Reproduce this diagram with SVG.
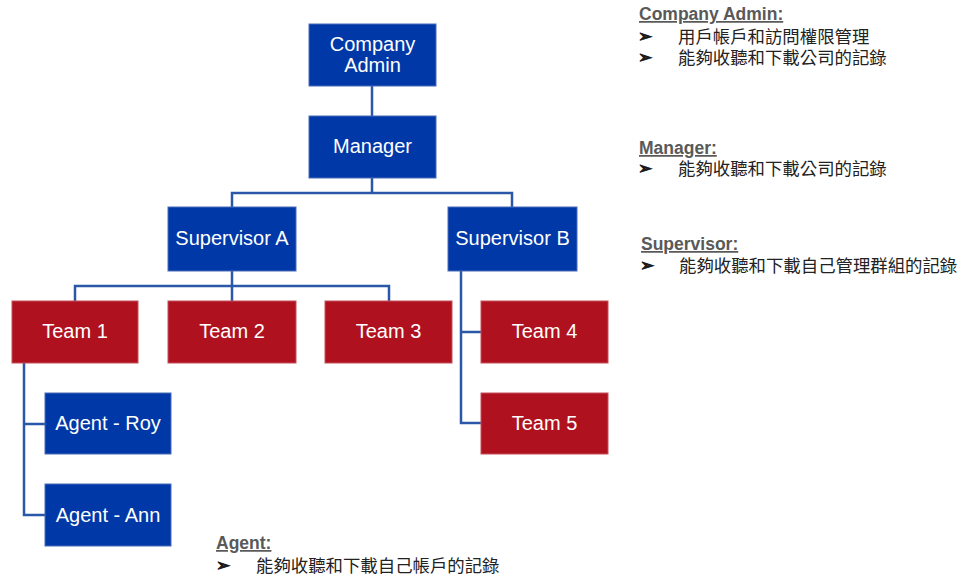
<svg xmlns="http://www.w3.org/2000/svg" width="965" height="580" viewBox="0 0 965 580">
<style>
  .bl { fill: #0038A8; stroke: #4a6cb8; stroke-width: 1; }
  .rd { fill: #AF121E; stroke: #c4505a; stroke-width: 1; }
  .nt { font-family: "Liberation Sans", Arial, sans-serif; font-size: 20px; fill: #ffffff; text-anchor: middle; }
  .cn { fill: none; stroke: #2A57A8; stroke-width: 2.5; }
  .hd { font-family: "Liberation Sans", Arial, sans-serif; font-size: 17.5px; font-weight: bold; fill: #595959; text-decoration: underline; }
  .bu { font-family: "DejaVu Sans", sans-serif; font-size: 17px; font-weight: bold; fill: #1a1a1a; stroke: #1a1a1a; stroke-width: 0.9; }
  .cj { font-family: "Liberation Sans", "Noto Sans CJK TC", sans-serif; font-size: 17.4px; fill: #222222; }
</style>
<rect width="965" height="580" fill="#ffffff"/>
<g id="connectors">
  <path class="cn" d="M372 86 V116"/>
  <path class="cn" d="M372 178 V193 M232 207 V193 H512 V207"/>
  <path class="cn" d="M232 271 V286 M75 301 V286 H389 V301 M232 286 V301"/>
  <path class="cn" d="M24 363 V515 H45 M24 424 H45"/>
  <path class="cn" d="M461 271 V423 H481 M461 332 H481"/>
</g>
<g id="company-admin">
  <rect class="bl" x="309" y="24" width="127" height="62"/>
  <text class="nt" x="372.5" y="51">Company</text>
  <text class="nt" x="372.5" y="72">Admin</text>
</g>
<g id="manager">
  <rect class="bl" x="309" y="116" width="127" height="62"/>
  <text class="nt" x="372.5" y="153">Manager</text>
</g>
<g id="supervisor-a">
  <rect class="bl" x="168" y="207" width="128" height="64"/>
  <text class="nt" x="232" y="245">Supervisor A</text>
</g>
<g id="supervisor-b">
  <rect class="bl" x="448" y="207" width="129" height="64"/>
  <text class="nt" x="512.5" y="245">Supervisor B</text>
</g>
<g id="team-1">
  <rect class="rd" x="12" y="301" width="126" height="62"/>
  <text class="nt" x="75" y="338">Team 1</text>
</g>
<g id="team-2">
  <rect class="rd" x="168" y="301" width="128" height="62"/>
  <text class="nt" x="232" y="338">Team 2</text>
</g>
<g id="team-3">
  <rect class="rd" x="325" y="301" width="127" height="62"/>
  <text class="nt" x="388.5" y="338">Team 3</text>
</g>
<g id="team-4">
  <rect class="rd" x="481" y="301" width="127" height="62"/>
  <text class="nt" x="544.5" y="338">Team 4</text>
</g>
<g id="team-5">
  <rect class="rd" x="481" y="393" width="127" height="61"/>
  <text class="nt" x="544.5" y="430">Team 5</text>
</g>
<g id="agent-roy">
  <rect class="bl" x="45" y="393" width="126" height="61"/>
  <text class="nt" x="108" y="430">Agent - Roy</text>
</g>
<g id="agent-ann">
  <rect class="bl" x="45" y="484" width="126" height="62"/>
  <text class="nt" x="108" y="522">Agent - Ann</text>
</g>
<g id="note-company-admin">
  <text class="hd" x="639" y="20">Company Admin:</text>
  <text class="bu" x="638" y="42">➢</text>
  <text class="cj" x="678" y="43">用戶帳戶和訪問權限管理</text>
  <text class="bu" x="638" y="63">➢</text>
  <text class="cj" x="678" y="64">能夠收聽和下載公司的記錄</text>
</g>
<g id="note-manager">
  <text class="hd" x="639" y="154">Manager:</text>
  <text class="bu" x="638" y="174">➢</text>
  <text class="cj" x="678" y="175">能夠收聽和下載公司的記錄</text>
</g>
<g id="note-supervisor">
  <text class="hd" x="641" y="250">Supervisor:</text>
  <text class="bu" x="640" y="271">➢</text>
  <text class="cj" x="679" y="272">能夠收聽和下載自己管理群組的記錄</text>
</g>
<g id="note-agent">
  <text class="hd" x="216" y="549">Agent:</text>
  <text class="bu" x="216" y="571">➢</text>
  <text class="cj" x="256" y="572">能夠收聽和下載自己帳戶的記錄</text>
</g>
</svg>
